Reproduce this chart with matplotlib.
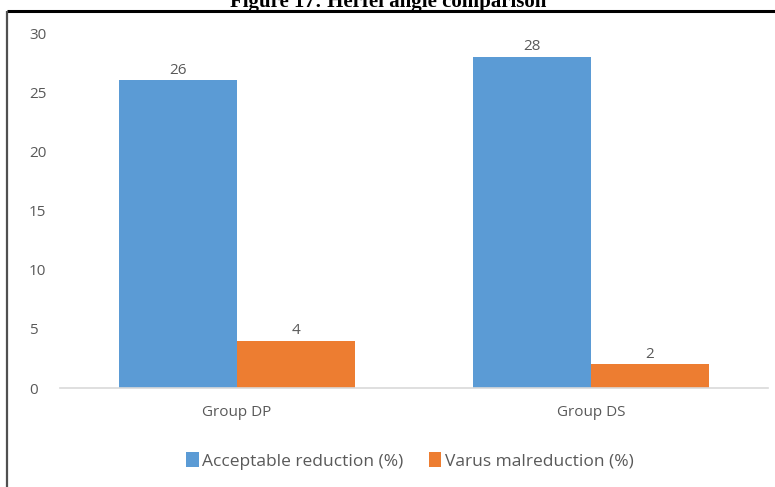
import matplotlib
matplotlib.use("Agg")
import matplotlib.pyplot as plt
import numpy as np
from matplotlib.lines import Line2D

groups = ["Group DP", "Group DS"]
series_names = ["Acceptable reduction (%)", "Varus malreduction (%)"]
acceptable = [26, 28]
varus = [4, 2]
y_ticks = [0, 5, 10, 15, 20, 25, 30]

blue = "#5B9BD5"
orange = "#ED7D31"
text_gray = "#595959"
font = "Open Sans"

W, H = 775, 487
fig = plt.figure(figsize=(W / 100, H / 100), dpi=100)

# Outer frame: thick black top edge, dark gray left edge
fig.add_artist(Line2D([7 / W, 1.0], [1 - 11 / H, 1 - 11 / H], transform=fig.transFigure,
                      color="black", lw=2.2, solid_capstyle="butt"))
fig.add_artist(Line2D([7 / W, 7 / W], [0, 1 - 11 / H], transform=fig.transFigure,
                      color="#505050", lw=1.6, solid_capstyle="butt"))

# Caption above the frame
fig.text(388 / W, 1 - 7 / H, "Figure 17: Herfel angle comparison", ha="center", va="baseline",
         fontsize=15, fontweight="bold", family="Liberation Serif", color="black")

ax = fig.add_axes([60 / W, 1 - 388 / H, 708 / W, (388 - 33) / H])
x = np.arange(len(groups))
width = 0.333
b1 = ax.bar(x - width / 2, acceptable, width, color=blue, label=series_names[0])
b2 = ax.bar(x + width / 2, varus, width, color=orange, label=series_names[1])

for bars, vals in ((b1, acceptable), (b2, varus)):
    for rect, v in zip(bars, vals):
        ax.annotate(str(v), (rect.get_x() + rect.get_width() / 2, v), xytext=(0, 2),
                    textcoords="offset points", ha="center", va="bottom",
                    fontsize=11, color=text_gray, family=font)

ax.set_xlim(-0.5, len(groups) - 0.5)
ax.set_ylim(0, 30)
ax.set_yticks(y_ticks)
ax.set_yticklabels([str(t) for t in y_ticks], ha="left")
ax.set_xticks(x)
ax.set_xticklabels(groups)
ax.tick_params(axis="y", length=0, pad=22.3, labelsize=11, labelcolor=text_gray)
ax.tick_params(axis="x", length=0, pad=12, labelsize=11, labelcolor=text_gray)
for lbl in ax.get_xticklabels() + ax.get_yticklabels():
    lbl.set_family(font)

for side in ("top", "right", "left"):
    ax.spines[side].set_visible(False)
ax.spines["bottom"].set_color("#D9D9D9")
ax.spines["bottom"].set_linewidth(1.2)

leg = fig.legend(handles=[b1, b2], loc="center", bbox_to_anchor=(410 / W, 1 - 461 / H),
                 ncol=2, frameon=False, handlelength=0.7, handleheight=0.9,
                 handletextpad=0.2, columnspacing=1.5, prop={"family": font, "size": 12.5})
for t in leg.get_texts():
    t.set_color(text_gray)

fig.savefig("out.png", dpi=100, facecolor="white")
